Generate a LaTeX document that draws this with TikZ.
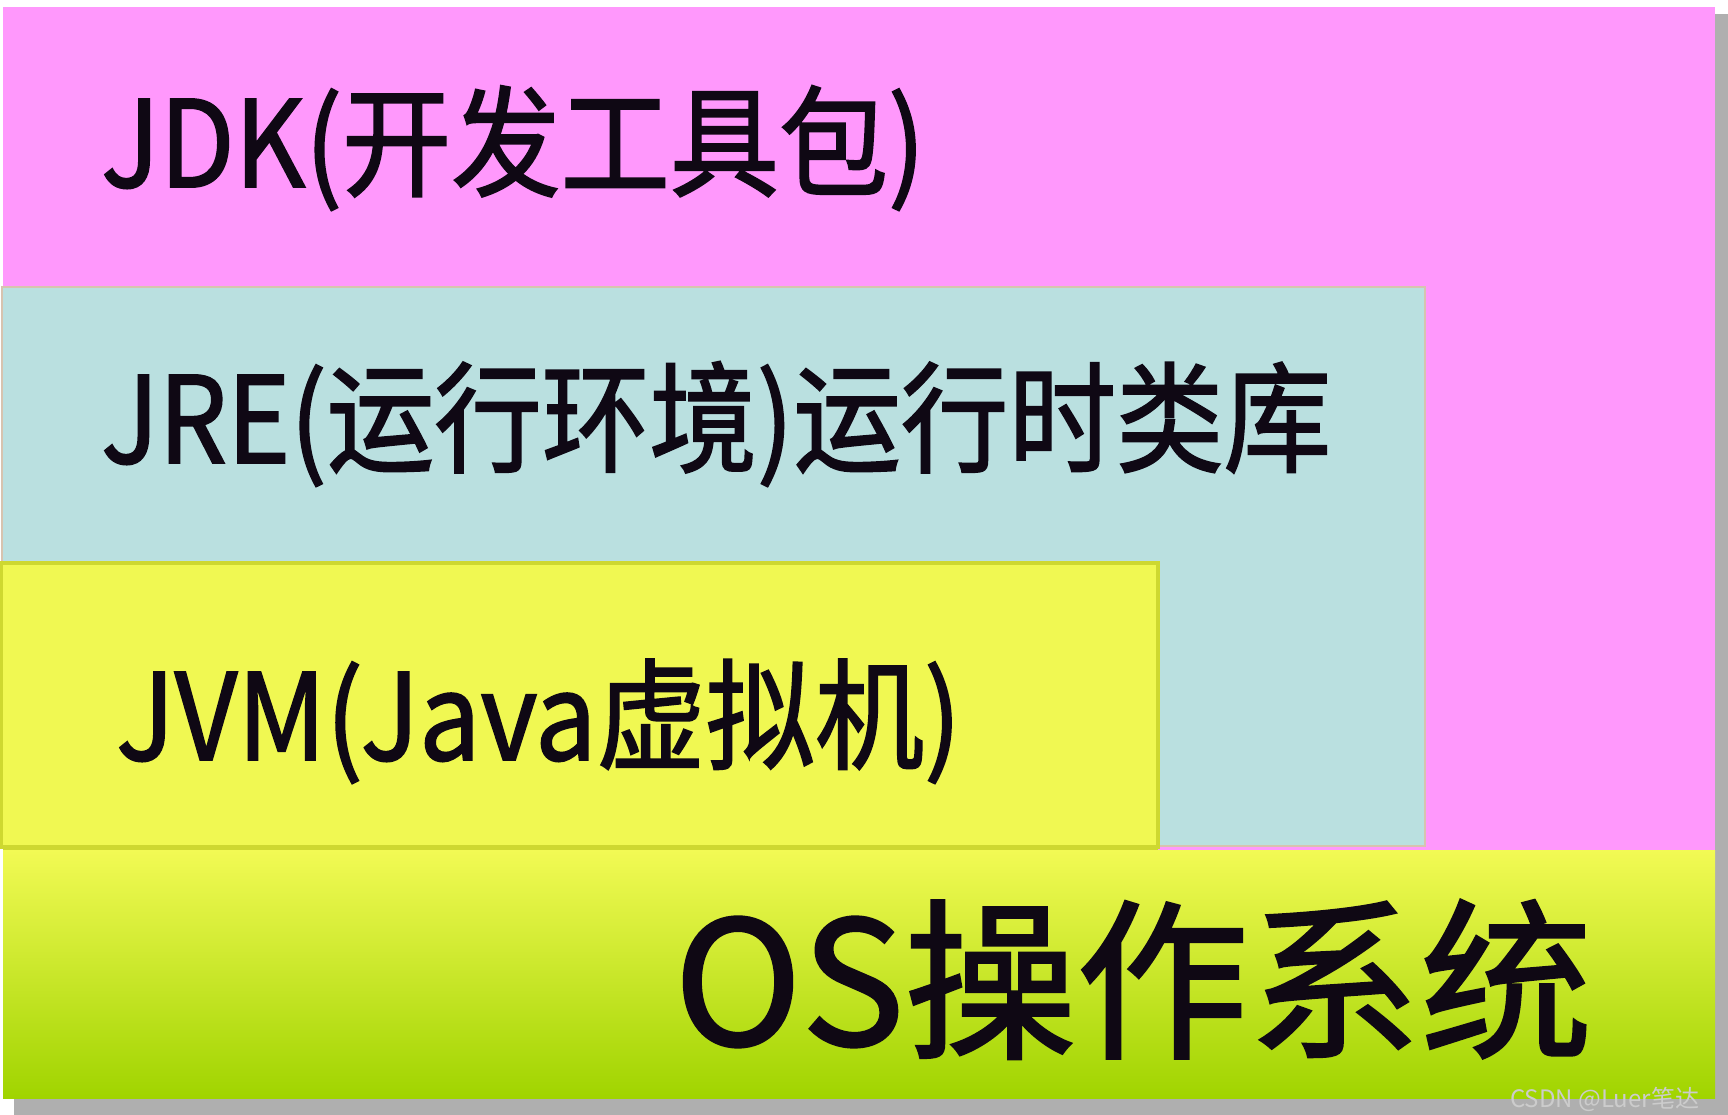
\documentclass[tikz,border=0pt]{standalone}
\usepackage{fontspec}
\setmainfont{Noto Sans CJK SC}
\newfontfamily\cjk[FakeBold=1.6]{Noto Sans CJK SC}
\newfontfamily\cjkw{Noto Sans CJK SC}
\definecolor{pinkc}{RGB}{255,152,252}
\definecolor{cyanc}{RGB}{186,224,224}
\definecolor{yellowc}{RGB}{240,248,82}
\definecolor{olivec}{RGB}{206,216,48}
\definecolor{tanc}{RGB}{215,195,175}
\definecolor{ostop}{RGB}{242,250,84}
\definecolor{osbot}{RGB}{160,212,0}
\definecolor{shadowc}{RGB}{175,175,175}
\definecolor{txt}{RGB}{15,8,20}
\tikzset{
  lbl/.style={anchor=base west, inner sep=0pt, text=txt, xscale=0.91, font=\cjk\fontsize{120}{130}\selectfont},
  oslbl/.style={anchor=base west, inner sep=0pt, text=txt, font=\cjk\fontsize{172}{180}\selectfont},
  wm/.style={anchor=base west, inner sep=0pt, text=black!20, font=\cjkw\fontsize{24}{26}\selectfont}
}
\begin{document}
\begin{tikzpicture}[x=1pt,y=-1pt]
\useasboundingbox (0,0) rectangle (1728,1115);
\fill[white] (0,0) rectangle (1728,1115);
% shadow
\fill[shadowc] (14,14) rectangle (1728,1115);
% JDK layer
\fill[pinkc] (3,7) rectangle (1715,850);
% JRE layer
\filldraw[fill=cyanc, draw=tanc, line width=2pt] (2,287) rectangle (1425,846);
% JVM layer
\filldraw[fill=yellowc, draw=olivec, line width=4pt] (1,563) rectangle (1158,847);
% OS layer
\shade[top color=ostop, bottom color=osbot] (3,850) rectangle (1715,1098);
\draw[olivec, line width=4pt] (3,848) -- (1158,848);
% labels
\node[lbl] (jdk) at (101,187) {JDK(开发工具包)};
\node[lbl, xscale=0.985] (jre) at (101,463) {JRE(运行环境)运行时类库};
\node[lbl] (jvm) at (116,760) {JVM(Java虚拟机)};
\node[oslbl] (os) at (674,1045) {OS操作系统};
\node[wm] (wmk) at (1510,1107) {CSDN @Luer笔达};
\end{tikzpicture}
\end{document}
